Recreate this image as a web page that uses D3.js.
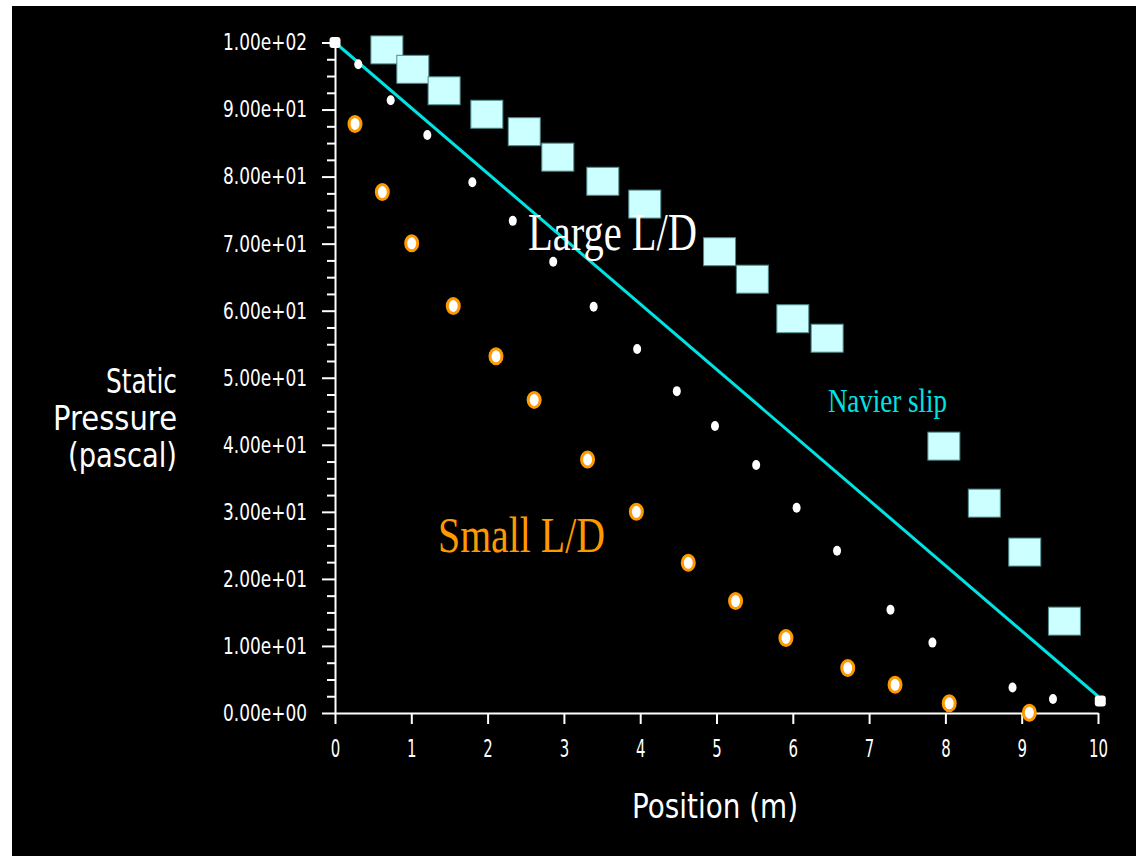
<!DOCTYPE html>
<html>
<head>
<meta charset="utf-8">
<script src="https://d3js.org/d3.v7.min.js"></script>
<style>
  body { margin: 0; background: #000; }
</style>
</head>
<body>
<div id="chart"></div>
<script>
// Data
const lineX = [0, 10]
const lineY = [100, 2.5]

const squareX = [0.68, 1.02, 1.43, 1.99, 2.48, 2.92, 3.51, 4.06, 5.04, 5.47, 6.0, 6.45, 7.98, 8.51, 9.04, 9.56]
const squareY = [98.9, 96.0, 92.8, 89.3, 86.7, 82.9, 79.3, 75.9, 68.8, 64.7, 58.8, 55.9, 39.8, 31.3, 24.0, 13.7]

const dotX = [0.305, 0.73, 1.21, 1.80, 2.33, 2.86, 3.39, 3.96, 4.48, 4.98, 5.52, 6.05, 6.58, 7.28, 7.83, 8.88, 9.41]
const dotY = [96.75, 91.4, 86.2, 79.15, 73.4, 67.3, 60.6, 54.3, 48.0, 42.8, 37.0, 30.6, 24.2, 15.4, 10.5, 3.8, 2.1]
const endX = [0, 10.03]
const endY = [100, 1.8]

const circleX = [0.262, 0.62, 1.005, 1.55, 2.11, 2.61, 3.31, 3.95, 4.63, 5.25, 5.91, 6.72, 7.34, 8.05, 9.10]
const circleY = [87.85, 77.7, 70.05, 60.7, 53.2, 46.7, 37.8, 30.0, 22.4, 16.7, 11.2, 6.7, 4.2, 1.45, 0.04]

const xTicks = [0, 1, 2, 3, 4, 5, 6, 7, 8, 9, 10]
const yTicks = [0, 10, 20, 30, 40, 50, 60, 70, 80, 90, 100]
const yTickLabels = ["0.00e+00", "1.00e+01", "2.00e+01", "3.00e+01", "4.00e+01", "5.00e+01",
  "6.00e+01", "7.00e+01", "8.00e+01", "9.00e+01", "1.00e+02"]

function draw(el) {
  const width = 1136, height = 856

  const svg = d3.select(el)
    .append("svg")
    .attr("width", width)
    .attr("height", height)
    .style("display", "block")

  svg.append("rect").attr("width", width).attr("height", height).attr("fill", "#000")
  // white edge left over from the screenshot
  svg.append("rect").attr("width", width).attr("height", 6).attr("fill", "#fff")
  svg.append("rect").attr("width", 12).attr("height", height).attr("fill", "#fff")

  const x = d3.scaleLinear().domain([0, 10]).range([335, 1098])
  const y = d3.scaleLinear().domain([0, 100]).range([713, 42.5])

  const tickFont = "'DejaVu Sans', sans-serif"

  // y axis: minor ticks first, then majors with labels
  const minor = d3.range(0, 100.1, 2.5).filter(d => d % 10 !== 0)
  svg.append("g")
    .attr("transform", `translate(${x(0)},0)`)
    .call(d3.axisLeft(y).tickValues(minor).tickSize(8).tickSizeOuter(0).tickFormat(""))
    .call(g => g.select(".domain").remove())
    .call(g => g.selectAll("line").attr("stroke", "#fff").attr("stroke-width", 2))

  svg.append("g")
    .attr("transform", `translate(${x(0)},0)`)
    .call(d3.axisLeft(y).tickValues(yTicks).tickSize(13).tickSizeOuter(0).tickPadding(15)
      .tickFormat((d, i) => yTickLabels[i]))
    .call(g => g.select(".domain").attr("stroke", "#fff").attr("stroke-width", 2))
    .call(g => g.selectAll("line").attr("stroke", "#fff").attr("stroke-width", 2))
    .call(g => g.selectAll("text")
      .attr("fill", "#fff")
      .style("font-family", tickFont)
      .style("font-size", "23px")
      .attr("textLength", 84)
      .attr("lengthAdjust", "spacingAndGlyphs"))

  svg.append("g")
    .attr("transform", `translate(0,${y(0)})`)
    .call(d3.axisBottom(x).tickValues(xTicks).tickSize(11).tickSizeOuter(0).tickPadding(16))
    .call(g => g.select(".domain").attr("stroke", "#fff").attr("stroke-width", 2))
    .call(g => g.selectAll("line").attr("stroke", "#fff").attr("stroke-width", 2))
    .call(g => g.selectAll("text")
      .attr("fill", "#fff")
      .style("font-family", tickFont)
      .style("font-size", "24px")
      .attr("textLength", d => String(d).length * 9.5)
      .attr("lengthAdjust", "spacingAndGlyphs"))

  // axis titles
  svg.append("text")
    .attr("x", 715).attr("y", 818)
    .attr("text-anchor", "middle")
    .attr("fill", "#fff")
    .style("font-family", tickFont)
    .style("font-size", "34px")
    .attr("textLength", 166).attr("lengthAdjust", "spacingAndGlyphs")
    .text("Position (m)")

  const yTitle = [["Static", 393, 71], ["Pressure", 430, 124], ["(pascal)", 467, 109]]
  svg.selectAll("text.ytitle")
    .data(yTitle)
    .join("text")
    .attr("class", "ytitle")
    .attr("x", 177).attr("y", d => d[1])
    .attr("text-anchor", "end")
    .attr("fill", "#fff")
    .style("font-family", tickFont)
    .style("font-size", "34px")
    .attr("textLength", d => d[2]).attr("lengthAdjust", "spacingAndGlyphs")
    .text(d => d[0])

  // squares
  const sw = 32, sh = 28
  svg.append("g").selectAll("rect")
    .data(squareX)
    .join("rect")
    .attr("x", (d, i) => x(d) - sw / 2)
    .attr("y", (d, i) => y(squareY[i]) - sh / 2)
    .attr("width", sw).attr("height", sh)
    .attr("fill", "#ccffff")
    .attr("stroke", "#4f8a8a")
    .attr("stroke-width", 1)

  // navier slip line
  svg.append("line")
    .attr("x1", x(lineX[0])).attr("y1", y(lineY[0]))
    .attr("x2", x(lineX[1])).attr("y2", y(lineY[1]))
    .attr("stroke", "#00e3e3")
    .attr("stroke-width", 3)

  // large L/D white dots
  svg.append("g").selectAll("ellipse")
    .data(dotX)
    .join("ellipse")
    .attr("cx", d => x(d))
    .attr("cy", (d, i) => y(dotY[i]))
    .attr("rx", 4).attr("ry", 5)
    .attr("fill", "#fff")

  svg.append("g").selectAll("rect")
    .data(endX)
    .join("rect")
    .attr("x", d => x(d) - 5.5)
    .attr("y", (d, i) => y(endY[i]) - 5.5)
    .attr("width", 11).attr("height", 11)
    .attr("rx", 3)
    .attr("fill", "#fff")

  // small L/D orange circles
  svg.append("g").selectAll("ellipse")
    .data(circleX)
    .join("ellipse")
    .attr("cx", d => x(d))
    .attr("cy", (d, i) => y(circleY[i]))
    .attr("rx", 6).attr("ry", 7.5)
    .attr("fill", "#fff")
    .attr("stroke", "#ff9900")
    .attr("stroke-width", 3)

  // annotations
  const serif = "'Liberation Serif', 'Times New Roman', serif"
  svg.append("text")
    .attr("x", x(2.53)).attr("y", y(69.05))
    .attr("fill", "#fff")
    .style("font-family", serif).style("font-size", "52px")
    .attr("textLength", 169).attr("lengthAdjust", "spacingAndGlyphs")
    .text("Large L/D")

  svg.append("text")
    .attr("x", x(1.35)).attr("y", y(24.0))
    .attr("fill", "#ff9900")
    .style("font-family", serif).style("font-size", "51px")
    .attr("textLength", 167).attr("lengthAdjust", "spacingAndGlyphs")
    .text("Small L/D")

  svg.append("text")
    .attr("x", x(6.46)).attr("y", y(44.9))
    .attr("fill", "#00e3e3")
    .style("font-family", serif).style("font-size", "33px")
    .attr("textLength", 119).attr("lengthAdjust", "spacingAndGlyphs")
    .text("Navier slip")
}

draw("#chart")
</script>
</body>
</html>
